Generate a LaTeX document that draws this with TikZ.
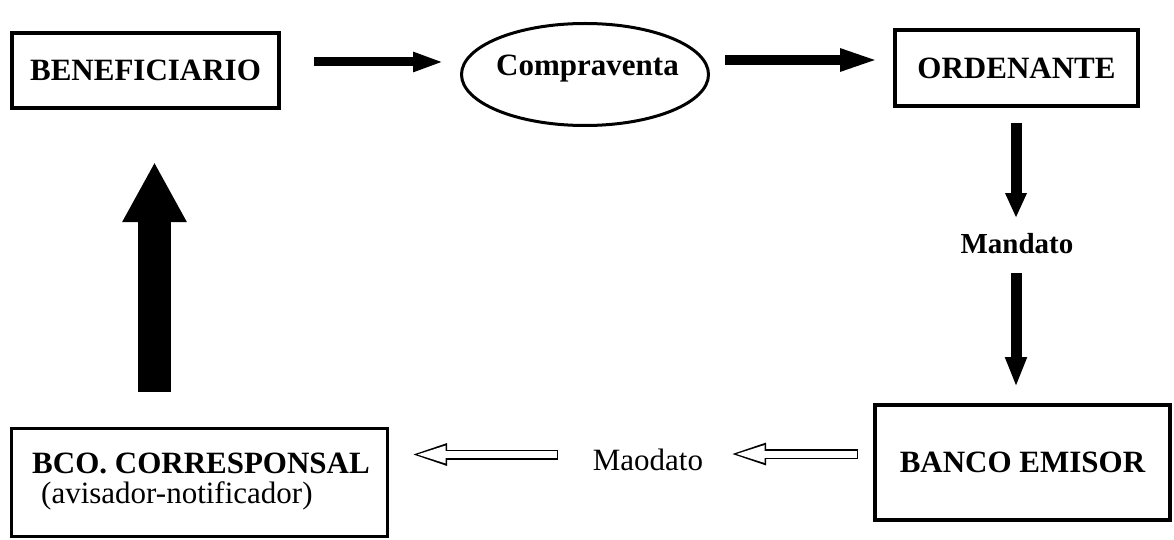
\documentclass[tikz,border=0pt]{standalone}
\usepackage{fontspec}
\setmainfont{Liberation Serif}
\usetikzlibrary{arrows.meta,shapes.geometric}
\begin{document}
\begin{tikzpicture}[x=1pt,y=-1pt,
  box/.style={draw, line width=3.5pt, inner sep=0pt, font=\fontsize{31}{33}\selectfont\bfseries},
  txt/.style={inner sep=0pt, anchor=base},
  bold31/.style={font=\fontsize{31}{33}\selectfont\bfseries},
  reg31/.style={font=\fontsize{31}{33}\selectfont},
  hollowout/.style={line width=10pt, -{Triangle[length=39pt,width=19pt]}},
  hollowin/.style={white, line width=7pt, shorten <=1.5pt, shorten >=6.3pt, -{Triangle[length=31.2pt,width=15.2pt]}}
]
\useasboundingbox (0,0) rectangle (1174,540);

% boxes
\node[box, minimum width=267pt, minimum height=75pt] (ben) at (145.5,70.5) {BENEFICIARIO};
\node[draw, ellipse, line width=3pt, minimum width=247pt, minimum height=102pt, inner sep=0pt] (comp) at (585,74.5) {};
\node[txt, bold31] (compt) at (587.5,76) {Compraventa};
\node[box, minimum width=243pt, minimum height=76pt] (ord) at (1016.5,68) {ORDENANTE};
\node[box, minimum width=295pt, minimum height=115pt] (bem) at (1022.5,462.5) {BANCO EMISOR};
\node[draw, line width=2.5pt, minimum width=376pt, minimum height=108pt, inner sep=0pt] (bco) at (199.5,482.5) {};
\node[txt, bold31] (bcot1) at (201,473) {BCO. CORRESPONSAL};
\node[txt, reg31, anchor=base west] (bcot2) at (41,503) {(avisador-notificador)};

% labels
\node[txt, font=\fontsize{29}{31}\selectfont\bfseries] (mand) at (1017,253) {Mandato};
\node[txt, reg31] (maod) at (648,470) {Maodato};

% arrow end coordinates
\coordinate (a1s) at (314,62);   \coordinate (a1e) at (444,62);
\coordinate (a2s) at (725,60);   \coordinate (a2e) at (880,60);
\coordinate (d1s) at (1016,123); \coordinate (d1e) at (1016,218);
\coordinate (d2s) at (1016,273); \coordinate (d2e) at (1016,387);
\coordinate (ups) at (154.5,392); \coordinate (upe) at (154.5,162);
\coordinate (h1s) at (558,454.5); \coordinate (h1e) at (408,454.5);
\coordinate (h2s) at (858,454);   \coordinate (h2e) at (727,454);

% solid arrows
\draw[line width=9pt, -{Triangle[length=31pt,width=18pt]}] (a1s) -- (a1e);
\draw[line width=10pt, -{Triangle[length=40pt,width=20pt]}] (a2s) -- (a2e);
\draw[line width=11pt, -{Triangle[length=25pt,width=20pt]}] (d1s) -- (d1e);
\draw[line width=11pt, -{Triangle[length=30pt,width=20pt]}] (d2s) -- (d2e);
\draw[line width=33pt, -{Triangle[length=60pt,width=60pt]}] (ups) -- (upe);

% hollow arrows
\draw[hollowout] (h1s) -- (h1e);
\draw[hollowin] (h1s) -- (h1e);
\draw[hollowout] (h2s) -- (h2e);
\draw[hollowin] (h2s) -- (h2e);
\end{tikzpicture}
\end{document}
